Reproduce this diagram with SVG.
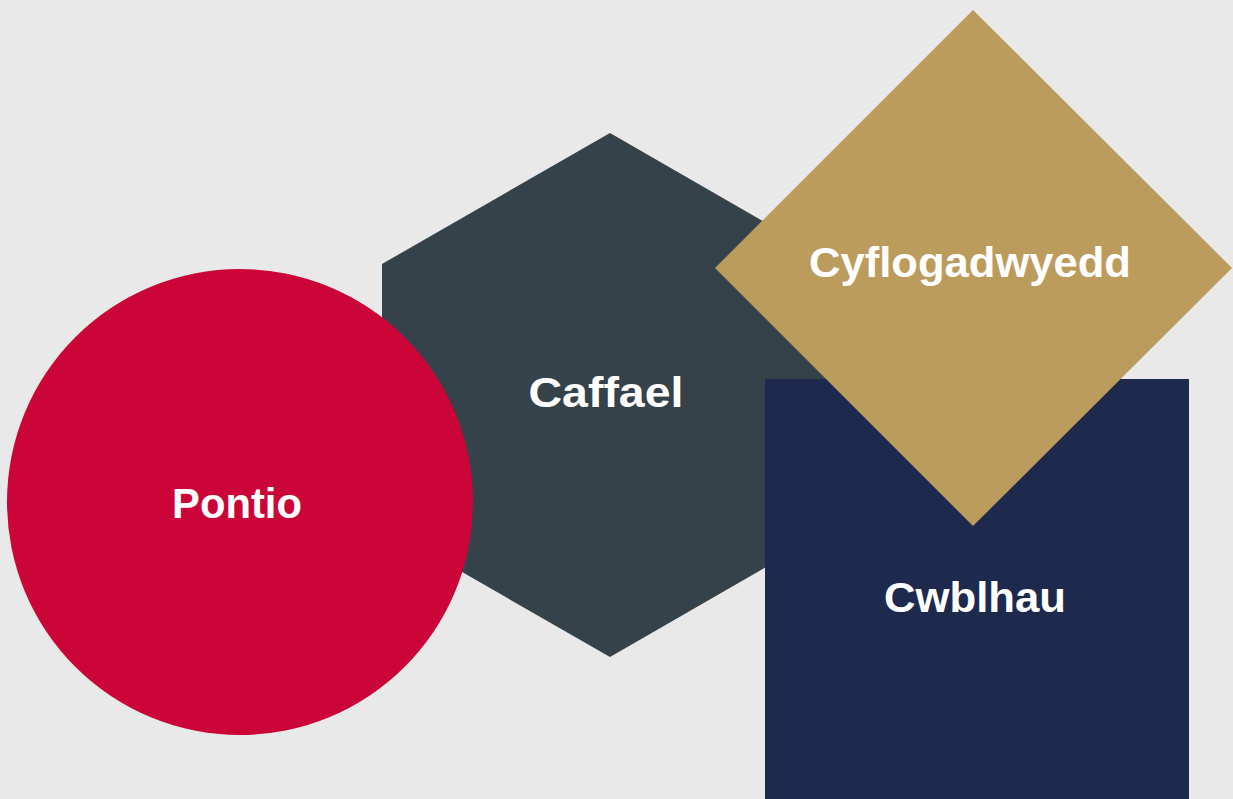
<svg xmlns="http://www.w3.org/2000/svg" width="1233" height="799" viewBox="0 0 1233 799">
<style>
.lbl{font-family:"Liberation Sans",Arial,sans-serif;font-weight:bold;font-size:42px;fill:#ffffff;text-anchor:middle}
</style>
<rect x="0" y="0" width="1233" height="799" fill="#e9e9e9"/>
<g id="caffael">
<polygon points="610,133 837,264 837,526 610,657 382,526 382,264" fill="#364249"/>
<text class="lbl" x="606" y="407" textLength="155" lengthAdjust="spacingAndGlyphs">Caffael</text>
</g>
<g id="pontio">
<circle cx="240" cy="502" r="233" fill="#cc0538"/>
<text class="lbl" x="237" y="518" textLength="130" lengthAdjust="spacingAndGlyphs">Pontio</text>
</g>
<g id="cwblhau">
<rect x="765" y="379" width="424" height="420" fill="#1e2a4d"/>
<text class="lbl" x="975" y="612" textLength="182" lengthAdjust="spacingAndGlyphs">Cwblhau</text>
</g>
<g id="cyflogadwyedd">
<polygon points="973,10 1232,268 973,526 715,268" fill="#bc9c5c"/>
<text class="lbl" x="970" y="277" textLength="322" lengthAdjust="spacingAndGlyphs">Cyflogadwyedd</text>
</g>
<g id="connectors"/>
</svg>
